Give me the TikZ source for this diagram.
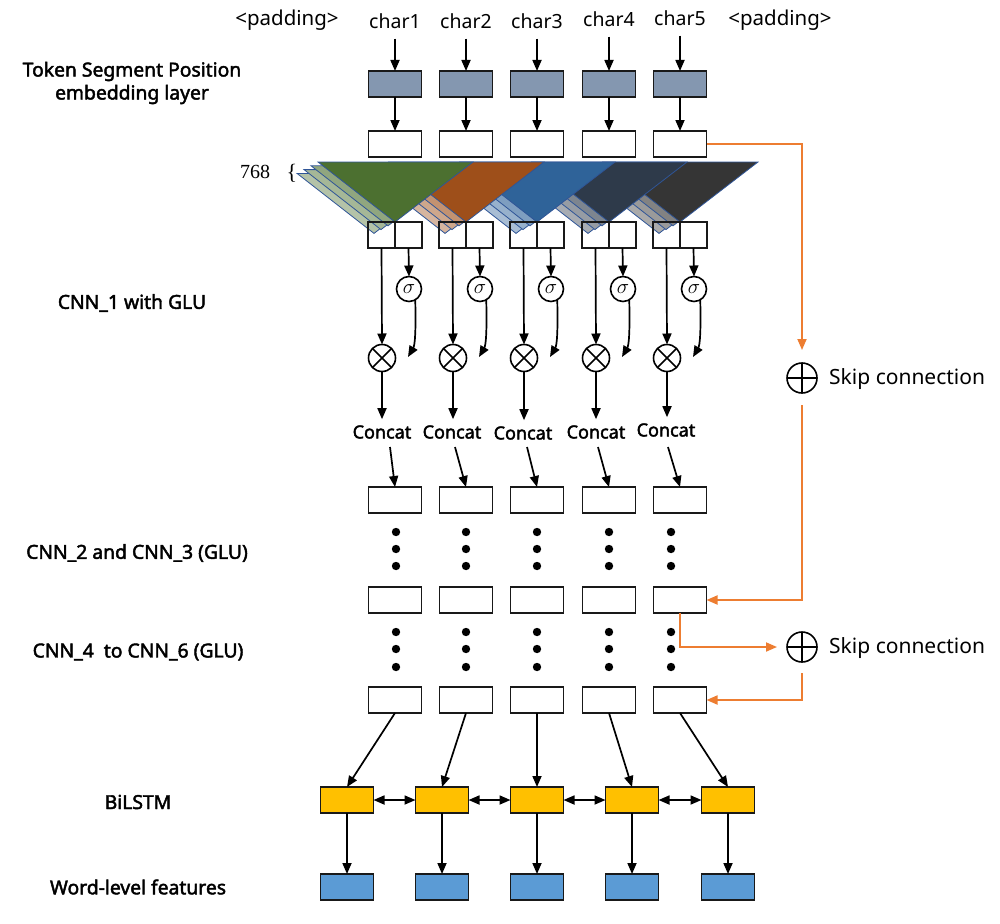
\documentclass[tikz,border=0pt]{standalone}
\usepackage{fontspec}
\setmainfont{Noto Sans}[AutoFakeBold=2.2]
\newfontfamily\serifnum{Liberation Serif}
\usetikzlibrary{arrows.meta,calc}
\definecolor{grayemb}{HTML}{8497B0}
\definecolor{ylw}{HTML}{FFC000}
\definecolor{blu}{HTML}{5B9BD5}
\definecolor{org}{HTML}{ED7D31}
\definecolor{tgreen}{HTML}{4C7030}
\definecolor{torange}{HTML}{9E4F1A}
\definecolor{tblue}{HTML}{2F6399}
\definecolor{tnavy}{HTML}{2E3A4A}
\definecolor{tblack}{HTML}{353535}
\definecolor{outl}{HTML}{2F5597}
\begin{document}
\begin{tikzpicture}[x=1pt,y=-1pt,
  box/.style={draw=black!90, line width=1.8pt, minimum width=53pt, minimum height=26pt, inner sep=0pt, outer sep=0pt},
  half/.style={draw=black!90, line width=1.8pt, minimum width=27pt, minimum height=26pt, inner sep=0pt, outer sep=0pt},
  arr/.style={-{Triangle[length=11pt,width=9pt]}, line width=1.7pt},
  darr/.style={{Triangle[length=11pt,width=9pt]}-{Triangle[length=11pt,width=9pt]}, line width=1.7pt},
  oarr/.style={-{Triangle[length=11pt,width=9pt]}, line width=1.8pt, draw=org, color=org},
  lbl/.style={font=\fontsize{19.3}{23}\selectfont\bfseries, align=center, inner sep=0pt},
  thin/.style={font=\fontsize{19.5}{22}\selectfont, inner sep=0pt},
  cct/.style={font=\fontsize{18}{20}\selectfont\bfseries, inner sep=0pt},
  skip/.style={font=\fontsize{21}{24}\selectfont, inner sep=0pt, anchor=west},
  circ/.style={circle, draw=black, line width=1.6pt, inner sep=0pt, outer sep=0pt},
]
\useasboundingbox (0,0) rectangle (1000,923);

% ---------- left labels ----------
\node[lbl] (L1) at (132,83) {Token Segment Position\\embedding layer};
\node[lbl] (L2) at (132,303) {CNN\_1 with GLU};
\node[lbl] (L3) at (137,553) {CNN\_2 and CNN\_3 (GLU)};
\node[lbl] (L4) at (138,652) {CNN\_4\ \ to CNN\_6 (GLU)};
\node[lbl] (L5) at (138,802) {BiLSTM};
\node[lbl] (L6) at (138,887) {Word-level features};

% ---------- top labels ----------
\node[thin, font=\fontsize{20.5}{22}\selectfont] (padl) at (287,20) {<padding>};
\node[thin, font=\fontsize{20.5}{22}\selectfont] (padr) at (780,20) {<padding>};

% ---------- fan of triangles ----------
\foreach \x/\c in {680/tblack, 609/tnavy, 537/tblue, 466/torange, 395/tgreen} {
  \foreach \k/\t in {3/42,2/50,1/62} {
    \filldraw[fill=\c!\t!white, draw=outl, line width=0.8pt]
      ({\x-77-7*\k},{162+3.8*\k}) -- ({\x+78-7*\k},{162+3.8*\k}) -- ({\x-7*\k},{222+3.8*\k}) -- cycle;
  }
  \filldraw[fill=\c, draw=outl, line width=0.8pt]
    ({\x-77},162) -- ({\x+78},162) -- (\x,222) -- cycle;
}
\node[font=\serifnum\fontsize{20}{22}\selectfont, inner sep=0pt] (n768) at (255,172) {768};
\node[font=\serifnum\fontsize{22}{22}\selectfont, inner sep=0pt] (brace) at (292,173) {\{};

% ---------- columns ----------
\foreach \i/\X/\cy/\ccx/\ccy/\csx/\dx/\Y in {1/395/21/382/432/390/396/347, 2/466/21/452/432/455/466/442, 3/537/21/523/433/527/537/537, 4/609/19/596/432/598/609/632, 5/680/18/666/430/668/671/728} {
  \node[thin] (ch\i) at (\X,\cy) {char\i};
  \node[box, fill=grayemb] (g\i) at (\X,84) {};
  \node[box] (t\i) at (\X,144) {};
  \draw[arr, shorten <=10pt] (ch\i.south) -- (g\i.north);
  \draw[arr] (g\i.south) -- (t\i.north);
  % split boxes
  \node[half] (sl\i) at ({\X-13.5},235) {};
  \node[half] (sr\i) at ({\X+13.5},235) {};
  \node[circ, minimum size=25pt, font=\fontsize{21}{21}\selectfont] (sg\i) at ({\X+14},289) {$\sigma$};
  \node[circ, minimum size=27pt] (mu\i) at ({\X-13},358) {};
  \draw[line width=1.6pt] (mu\i.45) -- (mu\i.225) (mu\i.135) -- (mu\i.-45);
  \draw[arr] (sl\i.south) -- (mu\i.north);
  \draw[arr] (sr\i.south) -- (sg\i.north);
  \draw[arr] (sg\i.-60) .. controls ({\X+21},330) and ({\X+20},345) .. ({\X+13},357);
  \node[cct] (cc\i) at (\ccx,\ccy) {Concat};
  \draw[arr, shorten >=6pt] (mu\i.south) -- (mu\i.south |- cc\i.north);
  \node[box] (c\i) at (\X,500) {};
  \draw[arr] (\csx,447) -- (c\i.north);
  \node[box] (m\i) at (\X,600) {};
  \node[box] (b\i) at (\X,700) {};
  \foreach \dy in {532,549,566,632,649,667} { \fill (\dx,\dy) circle (4.2pt); }
  \node[box, fill=ylw] (y\i) at (\Y,800) {};
  \node[box, fill=blu] (f\i) at (\Y,887) {};
  \draw[arr] (b\i.south) -- (y\i.north);
  \draw[arr] (y\i.south) -- (f\i.north);
}
\foreach \a/\b in {1/2,2/3,3/4,4/5} { \draw[darr] (y\a.east) -- (y\b.west); }

% ---------- skip connections ----------
\node[circ, minimum size=30pt] (p1) at (802,378) {};
\draw[line width=1.6pt] (p1.north) -- (p1.south) (p1.west) -- (p1.east);
\node[skip] (s1) at (829,379) {Skip connection};
\node[circ, minimum size=30pt] (p2) at (802,647) {};
\draw[line width=1.6pt] (p2.north) -- (p2.south) (p2.west) -- (p2.east);
\node[skip] (s2) at (829,648) {Skip connection};

\draw[oarr, shorten >=13pt] (t5.east) -| (p1.north);
\draw[oarr, shorten <=12pt] (p1.south) |- (m5.east);
\draw[oarr, shorten >=10pt] (m5.south) |- (p2.west);
\draw[oarr, shorten <=11pt] (p2.south) |- (b5.east);
\end{tikzpicture}
\end{document}
